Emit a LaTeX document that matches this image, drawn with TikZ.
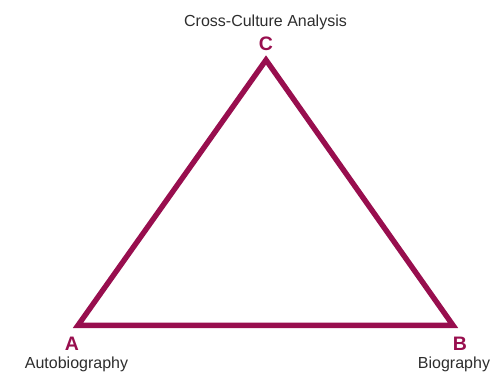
\documentclass[tikz,border=0pt]{standalone}
\usepackage{fontspec}
\setmainfont{Liberation Sans}
\definecolor{wine}{RGB}{152,14,78}
\definecolor{txt}{RGB}{45,45,45}
\begin{document}
\begin{tikzpicture}[x=1pt,y=-1pt,
  vlabel/.style={text=wine,font=\fontsize{19.5}{20}\selectfont\bfseries,anchor=base,inner sep=0pt},
  caption/.style={text=txt,font=\fontsize{16}{16}\selectfont,anchor=base,inner sep=0pt},
  edge/.style={draw=wine,line width=5.4pt,line join=miter}]
\useasboundingbox (0,0) rectangle (490,375);
\coordinate (A) at (78,325.3);
\coordinate (B) at (453,325.3);
\coordinate (C) at (266,60);
\draw[edge] (A) -- (B) -- (C) -- cycle;
\node[vlabel] (lc) at (266,50) {C};
\node[vlabel] (la) at (72,350) {A};
\node[vlabel] (lb) at (460,350) {B};
\node[caption] (tc) at (265.5,26) {Cross-Culture Analysis};
\node[caption] (ta) at (76.5,368) {Autobiography};
\node[caption] (tb) at (454,368) {Biography};
\end{tikzpicture}
\end{document}
